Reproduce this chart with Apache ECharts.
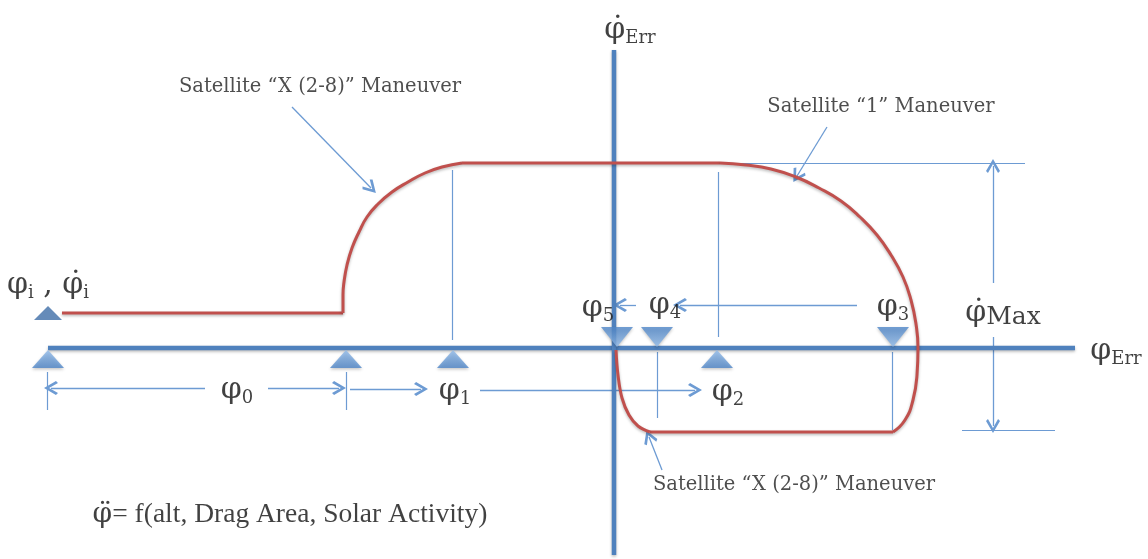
<!DOCTYPE html>
<html>
<head>
<meta charset="utf-8">
<script src="https://cdn.jsdelivr.net/npm/echarts@6/dist/echarts.min.js"></script>
<style>
  html, body { margin: 0; padding: 0; background: #ffffff; }
  #chart { width: 1148px; height: 559px; }
</style>
</head>
<body>
<div id="chart"></div>
<script>
// Phase-plane sketch: φ_Err along the horizontal axis, φ̇_Err along the vertical axis.
// Coordinates are in sketch units with the origin where the two axes cross.

// Main axes
const errAxisH = [[-566, 0], [461, 0]];
const errAxisV = [[0, 298], [0, -207]];

// Satellite "X (2-8)" approach: coast, ramp up, cruise at max rate
const xCoast = [[-552, 35], [-271, 35]];
const xRamp = [[-271, 35], [-271, 53], [-270, 66], [-267, 83], [-262, 100], [-255, 116],
               [-247, 131], [-236, 144], [-222, 156], [-206, 166], [-189, 175],
               [-172, 181], [-152, 185]];
const cruise = [[-152, 185], [106, 185]];

// Satellite "1" braking curve, through the axis and round to the return leg
const sat1Brake = [[106, 185], [132, 183], [157, 179], [182, 171], [205, 160], [227, 147],
                   [246, 131], [263, 113], [277, 93], [289, 71], [297, 48], [302, 24],
                   [304, 0], [303, -27], [299, -52], [291, -72], [279, -84]];

// Satellite "X (2-8)" return leg and final capture at the origin
const xReturn = [[279, -84], [36, -84]];
const xCapture = [[36, -84], [24, -78], [15, -67], [8, -50], [4, -27], [2, -2]];

// Thin guide lines (drop lines and dimension lines)
const guides = [
  [[-162, 178], [-162, 8]],
  [[104, 176], [104, 11]],
  [[-567, -24], [-567, -62]],
  [[-268, -24], [-268, -62]],
  [[43, -4], [43, -70]],
  [[278, -4], [278, -82]],
  [[106, 185], [411, 185]],
  [[348, -82], [441, -82]]
];

// Arrows (arrow head at the second point)
const arrows = [
  [[-409, -40], [-563, -40]],
  [[-346, -40], [-275, -40]],
  [[-264, -41], [-193, -41]],
  [[-134, -42], [81, -42]],
  [[243, 43], [66, 43]],
  [[22, 43], [6, 43]],
  [[379, 65], [379, 182]],
  [[379, 11], [379, -78]],
  [[-322, 241], [-243, 160]],
  [[213, 221], [183, 172]],
  [[48, -122], [35, -89]]
];

// Event markers on the φ_Err axis
const upMarkers = [[-566, -11], [-268, -11], [-161, -11], [103, -11]];
const downMarkers = [[3, 11], [43, 11], [279, 11]];
const startMarker = [[-566, 35]];

// Text annotations
const textLabels = [
  { name: '{g|φ}{s|0}', value: [-377, -42] },
  { name: '{g|φ}{s|1}', value: [-159, -43] },
  { name: '{g|φ}{s|2}', value: [114, -44] },
  { name: '{g|φ}{s|3}', value: [279, 41] },
  { name: '{g|φ}{s|4}', value: [51, 43] },
  { name: '{g|φ}{s|5}', value: [-16, 40] },
  { name: '{g|φ}{s|Err}', value: [502, -3] },
  { name: '{g|φ\u0307}{s|Err}', value: [16, 318] },
  { name: '{g|φ\u0307}{m|Max}', value: [389, 35] },
  { name: '{g|φ}{s|i}{g| , φ\u0307}{s|i}', value: [-566, 63] },
  { name: '{t|Satellite “X (2-8)” Maneuver}', value: [-294, 261] },
  { name: '{t|Satellite “1” Maneuver}', value: [267, 241] },
  { name: '{t|Satellite “X (2-8)” Maneuver}', value: [180, -137] },
  { name: '{d|φ\u0308}{f|= f(alt, Drag Area, Solar Activity)}', value: [-324, -167] }
];

const AXIS_BLUE = '#4f81bd';
const GUIDE_BLUE = '#6d9bd3';
const CURVE_RED = '#c0504d';
const SERIF = "'DejaVu Serif', 'Liberation Serif', serif";
const TEXT_SERIF = "'Liberation Serif', 'DejaVu Serif', serif";

const chevron = 'path://M5,0 L10,7 L8.6,8.2 L5,3 L1.4,8.2 L0,7 Z';

const shade = { shadowColor: 'rgba(0,0,0,0.28)', shadowBlur: 3, shadowOffsetY: 1.5 };

function curveSeries(data, smooth) {
  return {
    type: 'line', data, smooth, showSymbol: false, silent: true, z: 4,
    lineStyle: Object.assign({ color: CURVE_RED, width: 3 }, shade)
  };
}

const triFill = new echarts.graphic.LinearGradient(0, 0, 0, 1, [
  { offset: 0, color: '#93bdec' },
  { offset: 1, color: '#4d85c8' }
]);

const chart = echarts.init(document.getElementById('chart'), null, { renderer: 'canvas' });

chart.setOption({
  animation: false,
  backgroundColor: '#ffffff',
  grid: { left: 0, right: 0, top: 0, bottom: 0 },
  xAxis: { type: 'value', min: -614, max: 534, show: false },
  yAxis: { type: 'value', min: -211, max: 348, show: false },
  series: [
    {
      type: 'line', data: errAxisH, showSymbol: false, silent: true, z: 3,
      lineStyle: Object.assign({ color: AXIS_BLUE, width: 4.5 }, shade)
    },
    {
      type: 'line', data: errAxisV, showSymbol: false, silent: true, z: 3,
      lineStyle: Object.assign({ color: AXIS_BLUE, width: 4.5 }, shade)
    },
    curveSeries(xCoast, false),
    curveSeries(xRamp, 0.5),
    curveSeries(cruise, false),
    curveSeries(sat1Brake, 0.5),
    curveSeries(xReturn, false),
    curveSeries(xCapture, 0.4),
    {
      type: 'lines', coordinateSystem: 'cartesian2d', silent: true, z: 2,
      symbol: 'none',
      lineStyle: { color: GUIDE_BLUE, width: 1.2, opacity: 1 },
      data: guides.map(c => ({ coords: c }))
    },
    {
      type: 'lines', coordinateSystem: 'cartesian2d', silent: true, z: 2,
      symbol: ['none', chevron], symbolSize: 14,
      lineStyle: { color: GUIDE_BLUE, width: 1.3, opacity: 1 },
      itemStyle: { color: GUIDE_BLUE },
      data: arrows.map(c => ({ coords: c }))
    },
    {
      type: 'scatter', data: upMarkers, symbol: 'triangle', symbolSize: [32, 18],
      silent: true, z: 5, itemStyle: Object.assign({ color: triFill }, shade)
    },
    {
      type: 'scatter', data: downMarkers, symbol: 'triangle', symbolSize: [32, 20],
      symbolRotate: 180, silent: true, z: 5, itemStyle: Object.assign({ color: triFill }, shade)
    },
    {
      type: 'scatter', data: startMarker, symbol: 'triangle', symbolSize: [28, 14],
      silent: true, z: 5, itemStyle: { color: '#3f6ea8' }
    },
    {
      type: 'scatter', data: textLabels, symbolSize: 1, silent: true, z: 6,
      itemStyle: { color: 'rgba(0,0,0,0)' },
      label: {
        show: true, position: 'inside', formatter: p => p.name, color: '#111',
        rich: {
          g: { fontFamily: SERIF, fontSize: 30, color: '#111', lineHeight: 34 },
          s: { fontFamily: SERIF, fontSize: 18, color: '#111', verticalAlign: 'bottom', lineHeight: 20 },
          m: { fontFamily: SERIF, fontSize: 25, color: '#111', verticalAlign: 'bottom', lineHeight: 30 },
          t: { fontFamily: SERIF, fontSize: 19.5, color: '#222' },
          d: { fontFamily: SERIF, fontSize: 28, color: '#111' },
          f: { fontFamily: TEXT_SERIF, fontSize: 27.5, color: '#111' }
        }
      }
    }
  ]
});
</script>
</body>
</html>
